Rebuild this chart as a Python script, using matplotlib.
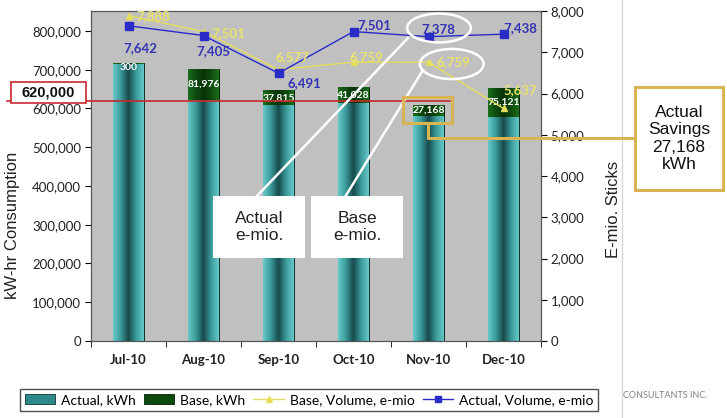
import numpy as np
import matplotlib
matplotlib.use("Agg")
import matplotlib.pyplot as plt
from matplotlib.colors import LinearSegmentedColormap
from matplotlib.patches import Rectangle, Ellipse, Patch
from matplotlib.lines import Line2D
from matplotlib import transforms

months = ['Jul-10', 'Aug-10', 'Sep-10', 'Oct-10', 'Nov-10', 'Dec-10']
actual_kwh = [716000, 621000, 609000, 614000, 581000, 578000]
base_kwh = [300, 81976, 37815, 41028, 27168, 75121]
base_labels = ['300', '81,976', '37,815', '41,028', '27,168', '75,121']
base_emio = [7888, 7501, 6577, 6759, 6759, 5637]
actual_emio = [7642, 7405, 6491, 7501, 7378, 7438]
target_kwh = 620000

W, H = 727, 418
def fx(px): return px / W
def fy(py): return 1 - py / H

plt.rcParams['font.family'] = ['Lato', 'DejaVu Sans']
fig = plt.figure(figsize=(W / 100, H / 100), dpi=100)
fig.patch.set_facecolor('white')

ax = fig.add_axes([fx(91), fy(341), (541 - 91) / W, (341 - 11) / H])
ax.set_facecolor('#C0C0C0')
x = np.arange(len(months))

teal = LinearSegmentedColormap.from_list('teal', ['#66C8C8', '#3A9A9A', '#174A4B', '#3A9A9A', '#66C8C8'])
green = LinearSegmentedColormap.from_list('grn', ['#1C6E1C', '#0E4A0E', '#083308', '#0E4A0E', '#1C6E1C'])
grad = np.linspace(0, 1, 64).reshape(1, -1)

bw = 0.41
b1 = ax.bar(x, actual_kwh, width=bw, color='#2E8A8A', edgecolor='#103030', linewidth=0.7, zorder=2)
b2 = ax.bar(x, base_kwh, width=bw, bottom=actual_kwh, color='#0E4A0E', edgecolor='#062006', linewidth=0.7, zorder=2)

# cylinder-like shading
for bars, cmap in ((b1, teal), (b2, green)):
    for r in bars:
        x0, y0, w, h = r.get_x(), r.get_y(), r.get_width(), r.get_height()
        im = ax.imshow(grad, cmap=cmap, extent=(x0, x0 + w, y0, y0 + h), aspect='auto', zorder=2.5)
        im.set_clip_path(r)

ax.set_xlim(-0.5, 5.5)
ax.set_ylim(0, 851600)
ax.set_yticks(np.arange(0, 800001, 100000))
ax.set_yticklabels([f'{v:,}' for v in range(0, 800001, 100000)], fontsize=9.5, color='#222222')
ax.set_xticks(x)
ax.set_xticklabels(months, fontsize=9.5, fontweight='bold', color='#222222')
ax.set_xticks(np.arange(-0.5, 6.0, 1), minor=True)
ax.tick_params(axis='x', which='major', length=0, pad=9)
ax.tick_params(axis='x', which='minor', length=4, direction='out')
ax.tick_params(axis='y', length=4, direction='out', pad=3)
for s in ax.spines.values():
    s.set_color('#555555')
    s.set_linewidth(0.8)
ax.set_ylabel('kW-hr Consumption', fontsize=12, family='Liberation Sans', color='#222222')
ax.yaxis.set_label_coords(-0.158, 0.35)

for i, lab in enumerate(base_labels):
    if i == 0:
        yy = actual_kwh[i] + base_kwh[i] - 10000
    else:
        yy = actual_kwh[i] + base_kwh[i] / 2
    ax.text(x[i], yy, lab, ha='center', va='center', color='white', fontsize=7.5, fontweight='bold', zorder=4)

ax2 = ax.twinx()
ax2.set_ylim(0, 8000)
ax2.set_yticks(np.arange(0, 8001, 1000))
ax2.set_yticklabels([f'{v:,}' for v in range(0, 8001, 1000)], fontsize=9.5, color='#222222')
ax2.tick_params(axis='y', length=4, direction='out', pad=3)
for s in ax2.spines.values():
    s.set_color('#555555')
    s.set_linewidth(0.8)
ax2.set_ylabel('E-mio. Sticks', fontsize=12, family='Liberation Sans', color='#222222')
ax2.yaxis.set_label_coords(1.145, 0.40)

ax2.plot(x, base_emio, color='#E4DE5C', lw=1, marker='^', ms=5, mfc='#E4DE5C', mec='#E4DE5C', zorder=5)
ax2.plot(x, actual_emio, color='#2B2BC8', lw=1, marker='s', ms=5.5, mfc='#2B2BC8', mec='#2B2BC8', zorder=6)

px2pt = 0.72
blue_off = [(12, -22), (10, -16), (26, -10), (21, 7), (10, 8), (17, 6)]
yel_off = [(25, 0), (25, -1), (14, 13), (13, 5), (25, 0), (17, 18)]
for i in range(len(months)):
    ax2.annotate(f'{actual_emio[i]:,}', (x[i], actual_emio[i]),
                 xytext=(blue_off[i][0] * px2pt, blue_off[i][1] * px2pt), textcoords='offset points',
                 ha='center', va='center', color='#3434B4', fontsize=9.5, fontweight='bold', zorder=7)
    ax2.annotate(f'{base_emio[i]:,}', (x[i], base_emio[i]),
                 xytext=(yel_off[i][0] * px2pt, yel_off[i][1] * px2pt), textcoords='offset points',
                 ha='center', va='center', color='#E8E26E', fontsize=9.5, fontweight='bold', zorder=7)

# ellipses around the Nov points
ax2.add_patch(Ellipse((4.14, 7588), 0.85, 700, fill=False, ec='white', lw=1.8, zorder=8))
ax2.add_patch(Ellipse((4.31, 6715), 0.85, 730, fill=False, ec='white', lw=1.8, zorder=8))

# target line and box
tr = transforms.blended_transform_factory(fig.transFigure, ax.transData)
fig.add_artist(Line2D([fx(7), fx(450)], [target_kwh, target_kwh], transform=tr, color='#C8282D', lw=1.2, zorder=9))
fig.add_artist(Rectangle((fx(11), fy(103)), (86 - 11) / W, (103 - 82) / H, transform=fig.transFigure,
                         fc='white', ec='#C8282D', lw=1.2, zorder=10))
fig.text(fx(48.5), fy(92.5), '620,000', ha='center', va='center', fontsize=10.5, fontweight='bold',
         family='Liberation Sans', color='#111111', zorder=11)

# callout boxes
for (l, t, r, b, txt) in [(213, 196, 305, 258, 'Actual\ne-mio.'), (311, 196, 403, 258, 'Base\ne-mio.')]:
    fig.add_artist(Rectangle((fx(l), fy(b)), (r - l) / W, (b - t) / H, transform=fig.transFigure,
                             fc='white', ec='none', zorder=10))
    fig.text(fx((l + r) / 2), fy((t + b) / 2), txt, ha='center', va='center', fontsize=12.5,
             family='Liberation Sans', color='#222222', linespacing=1.15, zorder=11)
fig.add_artist(Line2D([fx(256), fx(408)], [fy(197), fy(38)], transform=fig.transFigure, color='white', lw=1.8, zorder=9))
fig.add_artist(Line2D([fx(345), fx(423)], [fy(197), fy(70)], transform=fig.transFigure, color='white', lw=1.8, zorder=9))

# savings callout
gold = '#D8B454'
fig.add_artist(Rectangle((fx(403), fy(123)), 49 / W, 26 / H, transform=fig.transFigure,
                         fill=False, ec=gold, lw=2.2, zorder=10))
fig.add_artist(Line2D([fx(428), fx(428), fx(635)], [fy(123), fy(138), fy(138)], transform=fig.transFigure,
                      color=gold, lw=2.2, zorder=10))
fig.add_artist(Rectangle((fx(635), fy(190)), 88 / W, 103 / H, transform=fig.transFigure,
                         fc='white', ec=gold, lw=2.2, zorder=10))
fig.text(fx(679), fy(138.5), 'Actual\nSavings\n27,168\nkWh', ha='center', va='center', fontsize=12.5,
         family='Liberation Sans', color='#111111', linespacing=1.2, zorder=11)

# slide divider and footer text
fig.add_artist(Line2D([fx(622), fx(622)], [0, 1], transform=fig.transFigure, color='#D8D8D8', lw=1, zorder=1))
fig.text(fx(623), fy(396), 'CONSULTANTS INC.', ha='left', va='center', fontsize=6.5, color='#808080')

handles = [Patch(fc='#2E8A8A', ec='#103030', lw=0.6), Patch(fc='#0E4A0E', ec='#062006', lw=0.6),
           Line2D([], [], color='#E4DE5C', marker='^', ms=5, lw=1),
           Line2D([], [], color='#2B2BC8', marker='s', ms=5, lw=1)]
names = ['Actual, kWh', 'Base, kWh', 'Base, Volume, e-mio', 'Actual, Volume, e-mio']
leg = fig.legend(handles, names, loc='center', bbox_to_anchor=(fx(309), fy(400)), ncol=4, frameon=True,
                 fancybox=False, edgecolor='#222222', fontsize=10, handlelength=2.2, handletextpad=0.4,
                 columnspacing=0.6, borderpad=0.35)
leg.get_frame().set_linewidth(1)

fig.savefig('out.png', dpi=100, facecolor='white')
